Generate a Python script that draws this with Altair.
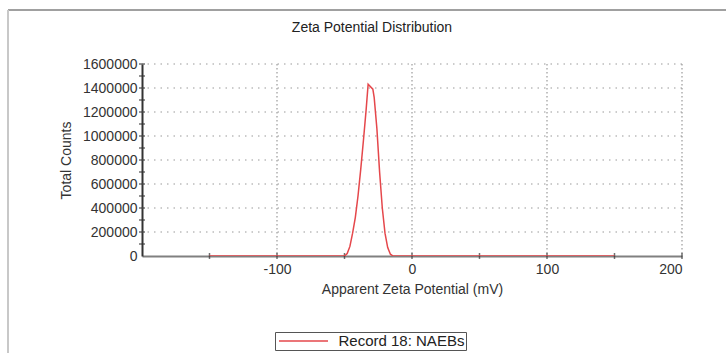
import altair as alt
import pandas as pd

# data
zeta_mv = [-150, -52, -50, -48, -46, -44, -42, -40, -38, -36, -34, -32.5,
           -29, -28, -26, -24, -22, -20, -18, -16, -14, 150]
counts = [0, 0, 0, 20000, 80000, 190000, 320000, 500000, 720000, 960000,
          1216000, 1432000, 1390000, 1320000, 1060000, 700000, 400000,
          190000, 70000, 15000, 0, 0]
series_name = "Record 18: NAEBs"

x_grid = [-100, 0, 100, 200]
y_grid = [200000, 400000, 600000, 800000, 1000000, 1200000, 1400000, 1600000]
x_ticks = [-150, -100, -50, 0, 50, 100, 150, 200]
y_ticks = [100000 * i for i in range(1, 17)]
x_labels = [-100, 0, 100, 200]
y_labels = [200000 * i for i in range(0, 9)]

df = pd.DataFrame({"zeta": zeta_mv, "counts": counts, "series": series_name})

FONT = "Liberation Sans"
xscale = alt.Scale(domain=[-200, 200], nice=False, zero=False)
yscale = alt.Scale(domain=[0, 1600000], nice=False)

xaxis = alt.Axis(values=x_labels, title="Apparent Zeta Potential (mV)",
                 labelExpr="'' + datum.value", ticks=False, grid=False,
                 domainColor="#808080", domainWidth=2, labelOverlap=False,
                 labelPadding=6, titlePadding=6)
yaxis = alt.Axis(values=y_labels, title="Total Counts",
                 labelExpr="'' + datum.value", ticks=False, grid=False,
                 domainColor="#333333", domainWidth=2, labelOverlap=False,
                 labelPadding=5, titlePadding=9)

line = alt.Chart(df).mark_line(strokeWidth=1.5, clip=True).encode(
    x=alt.X("zeta:Q", scale=xscale, axis=xaxis),
    y=alt.Y("counts:Q", scale=yscale, axis=yaxis),
    color=alt.Color("series:N", scale=alt.Scale(range=["#e5474b"]),
                    legend=alt.Legend(title=None, orient="none", legendX=133, legendY=268,
                                      strokeColor="#555555", padding=1, fillColor="white",
                                      symbolType="M-3.5,0L3.5,0", symbolSize=196,
                                      symbolStrokeWidth=1.5, labelFontSize=15,
                                      labelFont=FONT, labelColor="#222222",
                                      symbolOffset=19.5, labelOffset=27)),
)

gx = alt.Chart(pd.DataFrame({"v": x_grid})).mark_rule(
    color="#9a9a9a", strokeDash=[1.5, 2.5], strokeWidth=1.2).encode(
    x=alt.X("v:Q", scale=xscale, axis=xaxis))
gy = alt.Chart(pd.DataFrame({"v": y_grid})).mark_rule(
    color="#9a9a9a", strokeDash=[1.5, 5], strokeWidth=1.2).encode(
    y=alt.Y("v:Q", scale=yscale, axis=yaxis))

tx = alt.Chart(pd.DataFrame({"v": x_ticks})).mark_tick(
    orient="vertical", size=6, thickness=1.5, color="#333333").encode(
    x=alt.X("v:Q", scale=xscale, axis=xaxis), y=alt.datum(0, scale=yscale, axis=yaxis))
ty = alt.Chart(pd.DataFrame({"v": y_ticks})).mark_tick(
    orient="horizontal", size=6, thickness=1.5, color="#333333").encode(
    y=alt.Y("v:Q", scale=yscale, axis=yaxis), x=alt.datum(-200, scale=xscale, axis=xaxis))

frame_top = alt.Chart(pd.DataFrame({"v": [0]})).mark_rule(
    color="#a0a0a0", strokeWidth=2, clip=False).encode(
    x=alt.value(-134), x2=alt.value(600), y=alt.value(-54))
frame_left = alt.Chart(pd.DataFrame({"v": [0]})).mark_rule(
    color="#c8c8c8", strokeWidth=2, clip=False).encode(
    x=alt.value(-134), y=alt.value(-54), y2=alt.value(300))

chart = alt.layer(gy, gx, tx, ty, line, frame_top, frame_left).properties(
    width=540, height=192,
    title=alt.TitleParams("Zeta Potential Distribution", fontSize=14, font=FONT,
                          fontWeight="normal", color="#222222", anchor="middle",
                          offset=-26, dx=-40),
    autosize=alt.AutoSizeParams(type="none"),
    padding={"left": 142, "top": 64, "right": 44, "bottom": 97},
).configure_view(stroke=None).configure_axis(
    labelFont=FONT, titleFont=FONT, labelFontSize=14, titleFontSize=14,
    titleFontWeight="normal", labelColor="#333333", titleColor="#333333",
)

chart.save("out.html", embed_options={"renderer": "svg", "actions": False})
